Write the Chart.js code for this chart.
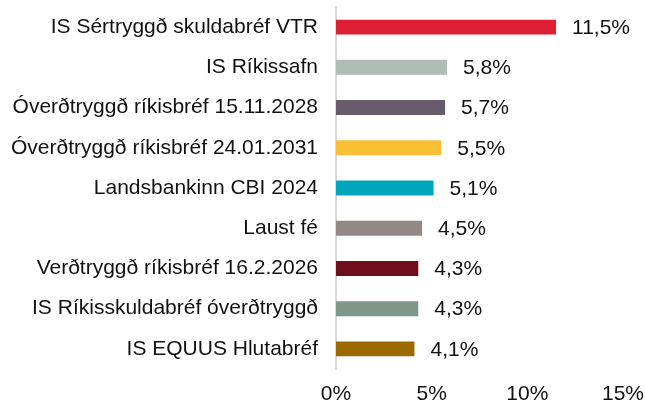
<!DOCTYPE html>
<html>
<head>
<meta charset="utf-8">
<script src="https://cdn.jsdelivr.net/npm/chart.js@4/dist/chart.umd.min.js"></script>
<style>
  html, body { margin: 0; padding: 0; background: #fff; }
  #wrap { width: 645px; height: 403px; position: relative; }
</style>
</head>
<body>
<div id="wrap"><canvas id="chart"></canvas></div>
<script>
// Fund holdings, share of portfolio (%)
const categories = [
    'IS Sértryggð skuldabréf VTR',
    'IS Ríkissafn',
    'Óverðtryggð ríkisbréf 15.11.2028',
    'Óverðtryggð ríkisbréf 24.01.2031',
    'Landsbankinn CBI 2024',
    'Laust fé',
    'Verðtryggð ríkisbréf 16.2.2026',
    'IS Ríkisskuldabréf óverðtryggð',
    'IS EQUUS Hlutabréf'
];
const shares = [11.5, 5.8, 5.7, 5.5, 5.1, 4.5, 4.3, 4.3, 4.1];
const barColors = [
    '#DC1F34', '#AFBDB7', '#675A6A', '#FBBF36', '#00A7BC',
    '#928888', '#6E0F1B', '#7F978B', '#9A6A00'
];
const xTicks = [0, 5, 10, 15];

const FONT = { family: '"Liberation Sans", Arial, sans-serif', size: 21, lineHeight: 1 };

// Formats 11.5 -> "11,5%"
function pct(v, digits) {
    return v.toFixed(digits).replace('.', ',') + '%';
}

// Draws the value label to the right of each bar
const valueLabels = {
    id: 'valueLabels',
    afterDatasetsDraw(chart) {
        const ctx = chart.ctx;
        const meta = chart.getDatasetMeta(0);
        ctx.save();
        ctx.font = FONT.size + 'px ' + FONT.family;
        ctx.fillStyle = '#111';
        ctx.textAlign = 'left';
        ctx.textBaseline = 'middle';
        meta.data.forEach((bar, i) => {
            ctx.fillText(pct(shares[i], 1), bar.x + 16, bar.y + 1);
        });
        ctx.restore();
    }
};

new Chart(document.getElementById('chart'), {
    type: 'bar',
    data: {
        labels: categories,
        datasets: [{
            data: shares,
            backgroundColor: barColors,
            barPercentage: 0.465,
            categoryPercentage: 0.8
        }]
    },
    options: {
        indexAxis: 'y',
        responsive: true,
        maintainAspectRatio: false,
        animation: false,
        devicePixelRatio: 1,
        layout: {
            padding: { left: 0, right: 22, top: 7, bottom: 0 }
        },
        plugins: {
            legend: { display: false },
            tooltip: { enabled: false }
        },
        scales: {
            x: {
                min: 0,
                max: 15,
                afterBuildTicks(scale) {
                    scale.ticks = xTicks.map(v => ({ value: v }));
                },
                afterFit(scale) {
                    scale.height = 34;
                    scale.paddingLeft = 0;
                    scale.paddingRight = 0;
                },
                grid: { display: false, drawTicks: false },
                border: { display: false },
                ticks: {
                    font: FONT,
                    color: '#111',
                    padding: 15,
                    maxRotation: 0,
                    callback: v => v + '%'
                }
            },
            y: {
                afterFit(scale) {
                    // fixed label column, no extra vertical padding from tick labels
                    scale.width = 336;
                    scale.paddingTop = 0;
                    scale.paddingBottom = 0;
                },
                grid: { display: false, drawTicks: false },
                border: { display: true, color: '#D9D9D9', width: 2 },
                ticks: {
                    font: FONT,
                    color: '#111',
                    padding: 18
                }
            }
        }
    },
    plugins: [valueLabels]
});
</script>
</body>
</html>
